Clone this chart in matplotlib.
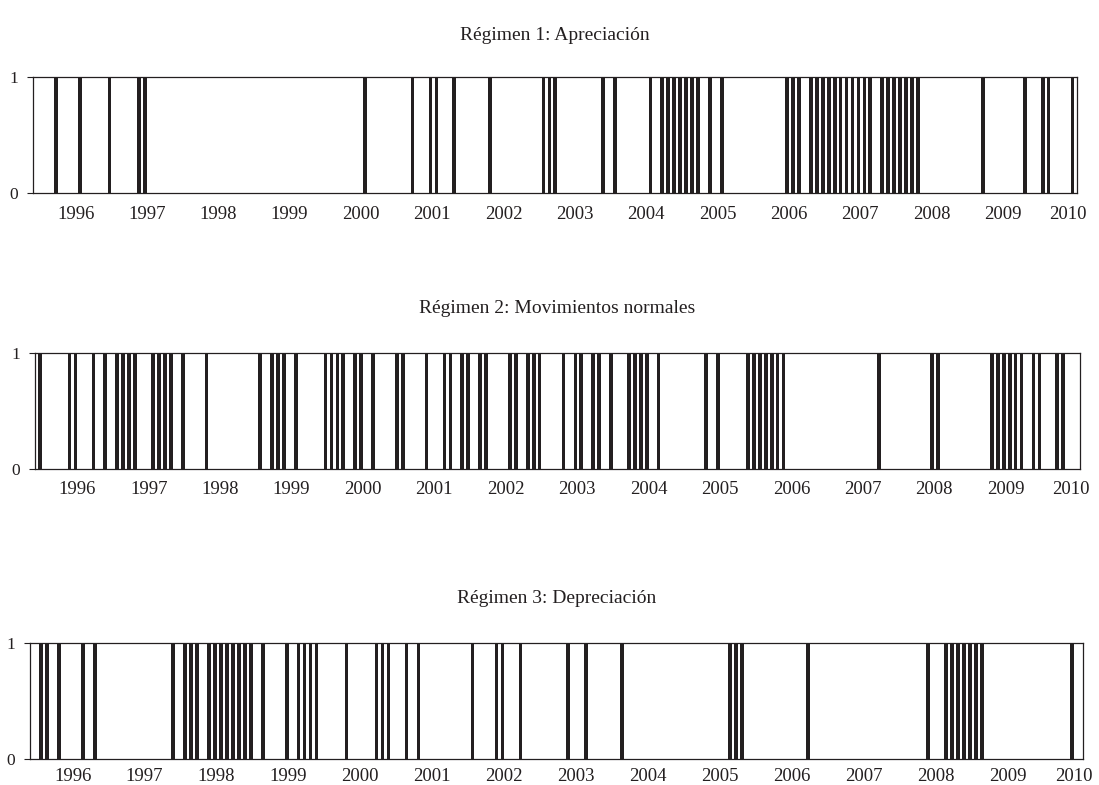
import matplotlib
matplotlib.use('Agg')
import matplotlib.pyplot as plt
import pandas as pd

plt.rcParams['font.family'] = ['Liberation Serif', 'DejaVu Serif']

# monthly sample shown on the axis
start_month = '1995-07'
end_month = '2010-01'
years = list(range(1996, 2011))

# months classified in each regime (value = 1)
regimen_1 = ['1995-10', '1996-02', '1996-07', '1996-12', '1997-01', '2000-02', '2000-10',
             '2001-01', '2001-02', '2001-05', '2001-11', '2002-08', '2002-09', '2002-10',
             '2003-06', '2003-08', '2004-02', '2004-04', '2004-05', '2004-06', '2004-07',
             '2004-08', '2004-09', '2004-10', '2004-12', '2005-02', '2006-01', '2006-02',
             '2006-03', '2006-05', '2006-06', '2006-07', '2006-08', '2006-09', '2006-10',
             '2006-11', '2006-12', '2007-01', '2007-02', '2007-03', '2007-05', '2007-06',
             '2007-07', '2007-08', '2007-09', '2007-10', '2007-11', '2008-10', '2009-05',
             '2009-08', '2009-09', '2010-01']

regimen_2 = ['1995-07', '1995-12', '1996-01', '1996-04', '1996-06', '1996-08', '1996-09',
             '1996-10', '1996-11', '1997-02', '1997-03', '1997-04', '1997-05', '1997-07',
             '1997-11', '1998-08', '1998-10', '1998-11', '1998-12', '1999-02', '1999-07',
             '1999-08', '1999-09', '1999-10', '1999-12', '2000-01', '2000-03', '2000-07',
             '2000-08', '2000-12', '2001-03', '2001-04', '2001-06', '2001-07', '2001-09',
             '2001-10', '2002-02', '2002-03', '2002-05', '2002-06', '2002-07', '2002-11',
             '2003-01', '2003-02', '2003-04', '2003-05', '2003-07', '2003-10', '2003-11',
             '2003-12', '2004-01', '2004-03', '2004-11', '2005-01', '2005-06', '2005-07',
             '2005-08', '2005-09', '2005-10', '2005-11', '2005-12', '2007-04', '2008-01',
             '2008-02', '2008-11', '2008-12', '2009-01', '2009-02', '2009-03', '2009-04',
             '2009-06', '2009-07', '2009-10', '2009-11']

regimen_3 = ['1995-08', '1995-09', '1995-11', '1996-03', '1996-05', '1997-06', '1997-08',
             '1997-09', '1997-10', '1997-12', '1998-01', '1998-02', '1998-03', '1998-04',
             '1998-05', '1998-06', '1998-07', '1998-09', '1999-01', '1999-03', '1999-04',
             '1999-05', '1999-06', '1999-11', '2000-04', '2000-05', '2000-06', '2000-09',
             '2000-11', '2001-08', '2001-12', '2002-01', '2002-04', '2002-12', '2003-03',
             '2003-09', '2005-03', '2005-04', '2005-05', '2006-04', '2007-12', '2008-03',
             '2008-04', '2008-05', '2008-06', '2008-07', '2008-08', '2008-09', '2009-12']

titles = ['Régimen 1: Apreciación', 'Régimen 2: Movimientos normales', 'Régimen 3: Depreciación']

ink = '#231f20'
first = pd.Period(start_month, 'M')
n_obs = (pd.Period(end_month, 'M') - first).n + 1


def month_pos(months):
    return [(pd.Period(m, 'M') - first).n for m in months]


W, H = 1099, 785
fig = plt.figure(figsize=(W / 100, H / 100), dpi=100)

# axes boxes in pixels: left, right, top, bottom, title baseline, year label pad
boxes = [(33.3, 1077.3, 77.3, 193.3, 40, 9),
         (35.0, 1080.0, 353.3, 469.0, 313, 9),
         (30.0, 1082.7, 643.3, 759.3, 603, 6)]

tick_pos = [(pd.Period(f'{y}-01', 'M') - first).n + 0.3 for y in years]
tick_pos[-1] -= 1.0

for regime, title, (l, r, t, b, ty, xpad) in zip([regimen_1, regimen_2, regimen_3], titles, boxes):
    ax = fig.add_axes([l / W, 1 - b / H, (r - l) / W, (b - t) / H])
    ax.bar(month_pos(regime), [1] * len(regime), width=0.62, color=ink, linewidth=0)
    ax.set_xlim(-0.82, n_obs - 1 + 0.82)
    ax.set_ylim(0, 1)
    ax.set_yticks([0, 1])
    ax.set_yticklabels(['0', '1'], fontsize=12.5)
    ax.set_xticks(tick_pos)
    ax.set_xticklabels([str(y) for y in years], fontsize=13.5)
    ax.tick_params(axis='x', length=0, pad=xpad, colors=ink)
    ax.tick_params(axis='y', length=4, width=0.8, pad=7, colors=ink)
    for sp in ax.spines.values():
        sp.set_linewidth(0.9)
        sp.set_color(ink)
    fig.text((l + r) / 2 / W, 1 - ty / H, title, ha='center', va='baseline',
             fontsize=14, color=ink)

fig.savefig('out.png', dpi=100)
